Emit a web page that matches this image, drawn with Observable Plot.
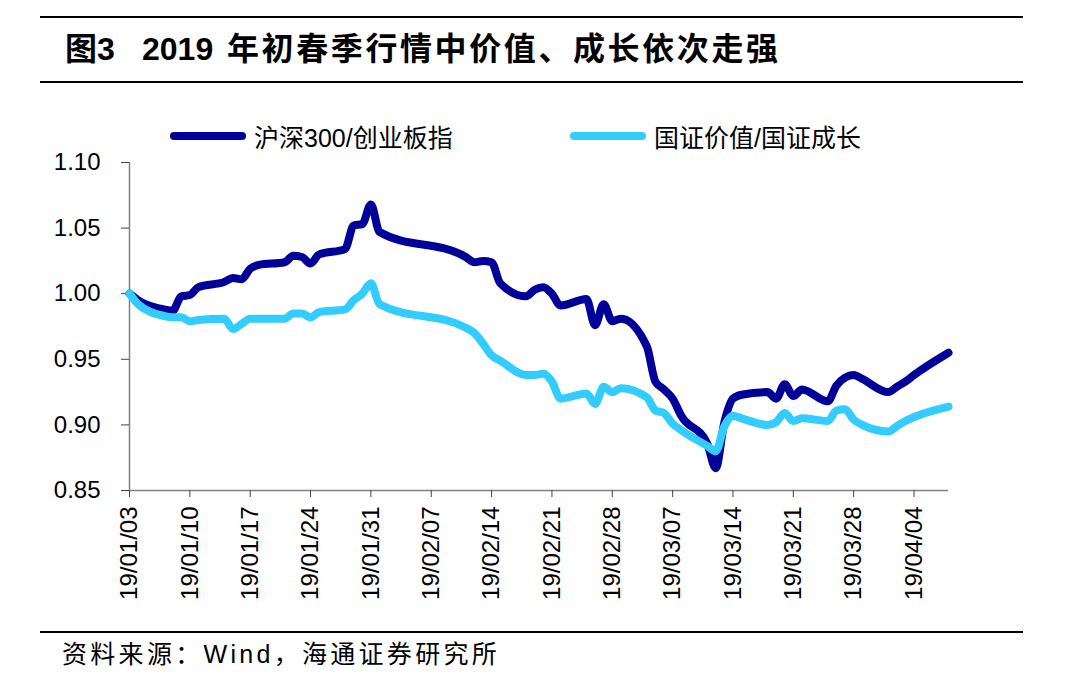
<!DOCTYPE html>
<html>
<head>
<meta charset="utf-8">
<script src="https://cdn.jsdelivr.net/npm/d3@7"></script>
<script src="https://cdn.jsdelivr.net/npm/@observablehq/plot@0.6"></script>
<style>
  html, body { margin: 0; padding: 0; background: #fff; }
  #wrap { position: relative; width: 1076px; height: 691px; overflow: hidden; background: #fff; }
  .hline { position: absolute; left: 40px; width: 983px; height: 2px; background: #000; }
  .tt { position: absolute; top: 29px; font-family: "Liberation Sans", Arial, "Noto Sans CJK SC", sans-serif; font-weight: bold; font-size: 32px; line-height: 40px; color: #000; white-space: pre; }
  .leg { position: absolute; top: 120px; height: 32px; display: flex; align-items: center; font-family: "Liberation Sans", Arial, "Noto Sans CJK SC", sans-serif; font-size: 25px; color: #000; white-space: pre; }
  .leg .sw { width: 76px; height: 8px; border-radius: 4px; margin-right: 8px; }
  #source { position: absolute; left: 62px; top: 637px; font-family: "Liberation Sans", Arial, "Noto Sans CJK SC", sans-serif; font-size: 25px; letter-spacing: 3.3px; line-height: 34px; color: #000; white-space: pre; }
  #chart { position: absolute; left: 0; top: 150px; }
</style>
</head>
<body>
<div id="wrap">
  <div class="hline" style="top:16px"></div>
  <div id="t1" class="tt" style="left:65px"></div>
  <div id="t2" class="tt" style="left:142px"></div>
  <div id="t3" class="tt" style="left:227px; letter-spacing:2.6px"></div>
  <div class="hline" style="top:81px"></div>
  <div id="legend"></div>
  <div id="chart"></div>
  <div class="hline" style="top:631px"></div>
  <div id="source"></div>
</div>
<script>
const titleParts = ["图3", "2019", "年初春季行情中价值、成长依次走强"];
const sourceText = "资料来源：Wind，海通证券研究所";
const seriesNames = ["沪深300/创业板指", "国证价值/国证成长"];
const seriesColors = ["#000099", "#33CCFF"];

const dates = [
  "2019-01-03","2019-01-04","2019-01-07","2019-01-08","2019-01-09","2019-01-10","2019-01-11",
  "2019-01-14","2019-01-15","2019-01-16","2019-01-17","2019-01-18",
  "2019-01-21","2019-01-22","2019-01-23","2019-01-24","2019-01-25",
  "2019-01-28","2019-01-29","2019-01-30","2019-01-31","2019-02-01",
  "2019-02-11","2019-02-12","2019-02-13","2019-02-14","2019-02-15",
  "2019-02-18","2019-02-19","2019-02-20","2019-02-21","2019-02-22",
  "2019-02-25","2019-02-26","2019-02-27","2019-02-28","2019-03-01",
  "2019-03-04","2019-03-05","2019-03-06","2019-03-07","2019-03-08",
  "2019-03-11","2019-03-12","2019-03-13","2019-03-14","2019-03-15",
  "2019-03-18","2019-03-19","2019-03-20","2019-03-21","2019-03-22",
  "2019-03-25","2019-03-26","2019-03-27","2019-03-28","2019-03-29",
  "2019-04-01","2019-04-02","2019-04-03","2019-04-04","2019-04-08"
];

const hs300Cyb = [
  1.000,0.995,0.988,0.987,0.998,0.999,1.005,
  1.009,1.012,1.011,1.019,1.022,
  1.024,1.029,1.028,1.023,1.030,
  1.034,1.052,1.053,1.068,1.047,
  1.028,1.024,1.025,1.024,1.008,
  0.998,1.003,1.005,1.000,0.991,
  0.996,0.976,0.992,0.979,0.981,
  0.960,0.933,0.927,0.920,0.907,
  0.886,0.867,0.902,0.920,0.923,
  0.925,0.920,0.931,0.922,0.927,
  0.918,0.930,0.936,0.938,0.935,
  0.925,0.929,0.933,0.938,0.955
];

const valueGrowth = [
  1.000,0.992,0.983,0.982,0.982,0.979,0.980,
  0.981,0.973,0.977,0.981,0.981,
  0.981,0.985,0.985,0.982,0.986,
  0.988,0.995,1.000,1.008,0.992,
  0.974,0.970,0.962,0.953,0.949,
  0.938,0.938,0.939,0.933,0.920,
  0.924,0.916,0.929,0.925,0.928,
  0.921,0.911,0.909,0.901,0.896,
  0.884,0.880,0.899,0.907,0.905,
  0.900,0.902,0.909,0.903,0.905,
  0.903,0.911,0.912,0.904,0.900,
  0.895,0.899,0.903,0.906,0.914
];

const xTickDates = ["2019-01-03","2019-01-10","2019-01-17","2019-01-24","2019-01-31","2019-02-07",
  "2019-02-14","2019-02-21","2019-02-28","2019-03-07","2019-03-14","2019-03-21","2019-03-28","2019-04-04"];
const xDomain = ["2019-01-03", "2019-04-08"];
const yTicks = [0.85, 0.90, 0.95, 1.00, 1.05, 1.10];

["t1", "t2", "t3"].forEach((id, i) => { document.getElementById(id).textContent = titleParts[i]; });
document.getElementById("source").textContent = sourceText;

const legendPos = [170, 570];
const legendEl = document.getElementById("legend");
seriesNames.forEach((name, i) => {
  const d = document.createElement("div");
  d.className = "leg";
  d.style.left = legendPos[i] + "px";
  d.innerHTML = `<div class="sw" style="background:${seriesColors[i]}"></div><span></span>`;
  d.querySelector("span").textContent = name;
  legendEl.appendChild(d);
});

const parse = d3.utcParse("%Y-%m-%d");
const rows = [];
dates.forEach((d, i) => {
  rows.push({date: parse(d), value: hs300Cyb[i], series: seriesNames[0]});
});
dates.forEach((d, i) => {
  rows.push({date: parse(d), value: valueGrowth[i], series: seriesNames[1]});
});

const fmt = d3.utcFormat("%y/%m/%d");

const chart = Plot.plot({
  width: 1076,
  height: 470,
  marginLeft: 129,
  marginRight: 128,
  marginTop: 12,
  marginBottom: 130,
  style: { fontFamily: "'Liberation Sans', Arial, sans-serif", fontSize: "24px", color: "#000", background: "#fff", overflow: "visible" },
  x: { type: "utc", domain: xDomain.map(parse) },
  y: { domain: [0.85, 1.10] },
  color: { domain: seriesNames, range: seriesColors },
  marks: [
    Plot.ruleX([parse(xDomain[0])], { y1: 0.85, y2: 1.10, stroke: "#808080", strokeWidth: 1.5 }),
    Plot.ruleY([0.85], { stroke: "#808080", strokeWidth: 1.5 }),
    Plot.axisY({ ticks: yTicks, tickFormat: d => d.toFixed(2), tickSize: 8, tickPadding: 21, stroke: "#444", fontSize: 24, label: null }),
    Plot.axisX({ ticks: xTickDates.map(parse), tickFormat: fmt, tickSize: 7, tickPadding: 9, tickRotate: -90, stroke: "#444", fontSize: 24, label: null }),
    Plot.line(rows.filter(r => r.series === seriesNames[0]), { x: "date", y: "value", stroke: "series", strokeWidth: 8, strokeLinejoin: "round", strokeLinecap: "round", curve: "monotone-x" }),
    Plot.line(rows.filter(r => r.series === seriesNames[1]), { x: "date", y: "value", stroke: "series", strokeWidth: 8, strokeLinejoin: "round", strokeLinecap: "round", curve: "monotone-x" })
  ]
});
document.getElementById("chart").appendChild(chart);
</script>
</body>
</html>
